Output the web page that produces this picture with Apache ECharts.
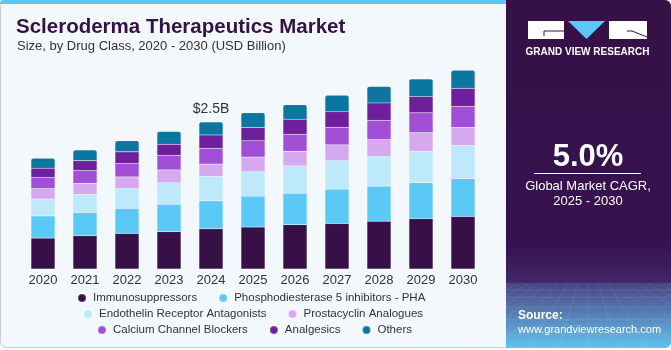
<!DOCTYPE html>
<html><head><meta charset="utf-8">
<script src="https://cdn.jsdelivr.net/npm/echarts@6/dist/echarts.min.js"></script>
<style>html,body{margin:0;padding:0;background:#fff}#c{width:671px;height:350px}</style>
</head><body><div id="c"></div>
<script>
var years = ['2020','2021','2022','2023','2024','2025','2026','2027','2028','2029','2030'];
var immunosuppressors = [0.53,0.57,0.61,0.64,0.69,0.72,0.76,0.78,0.82,0.86,0.90];
var pde5 = [0.38,0.40,0.43,0.47,0.48,0.53,0.54,0.59,0.60,0.62,0.65];
var endothelin = [0.29,0.31,0.34,0.37,0.42,0.42,0.47,0.49,0.51,0.54,0.57];
var prostacyclin = [0.18,0.19,0.20,0.22,0.21,0.25,0.25,0.27,0.29,0.32,0.31];
var calcium = [0.19,0.22,0.23,0.25,0.27,0.28,0.29,0.30,0.33,0.34,0.36];
var analgesics = [0.16,0.17,0.20,0.19,0.23,0.23,0.26,0.27,0.30,0.28,0.31];
var others = [0.17,0.18,0.19,0.22,0.22,0.25,0.25,0.28,0.28,0.30,0.31];
var seriesNames = ['Immunosuppressors','Phosphodiesterase 5 inhibitors - PHA','Endothelin Receptor Antagonists','Prostacyclin Analogues','Calcium Channel Blockers','Analgesics','Others'];
var colors = ['#361046','#5bc9f5','#bde9fa','#d6a9ee','#a24fd7','#6e1f9c','#0b77a0'];
var calloutIndex = 4, calloutText = '$2.5B';
var cagrText = '5.0%';

var chart = echarts.init(document.getElementById('c'), null, {renderer:'canvas'});
var allData = [immunosuppressors,pde5,endothelin,prostacyclin,calcium,analgesics,others];
var series = allData.map(function(d,i){
  var data = d.map(function(v,j){
    var item = {value:v};
    if(i===6 && j===calloutIndex){
      item.label = {show:true, position:'top', distance:6, formatter:calloutText, fontSize:14, color:'#333', fontFamily:'Liberation Sans, Arial'};
    }
    return item;
  });
  return {
    name: seriesNames[i], type:'bar', stack:'s', barWidth:24, data:data,
    itemStyle:{color:colors[i], borderRadius: i===6?[2,2,0,0]:0, borderColor:'rgba(255,255,255,0.18)', borderWidth:0.5},
    emphasis:{disabled:true}
  };
});

var gridLines = [];
for (var k=0;k<7;k++){
  var y = 290 + k*k*1.3 + k*6;
  if (y>346) break;
  gridLines.push({type:'line', shape:{x1:506,y1:y,x2:670,y2:y}, style:{stroke:'rgba(255,255,255,0.13)', lineWidth:0.7}, silent:true});
}
for (var m=-8;m<=8;m++){
  gridLines.push({type:'line', shape:{x1:588+m*10,y1:284,x2:588+m*30,y2:348}, style:{stroke:'rgba(255,255,255,0.12)', lineWidth:0.7}, silent:true});
}

function legendRow(names, left, top){
  return {data:names, left:left, top:top, orient:'horizontal', icon:'circle', itemWidth:8, itemHeight:8, itemGap:21, padding:0,
    textStyle:{fontSize:11.5, color:'#333', fontFamily:'Liberation Sans, Arial', padding:[0,0,0,2]}, selectedMode:false};
}

chart.setOption({
  animation:false,
  color: colors,
  title:[
    {text:'Scleroderma Therapeutics Market', left:16, top:17, padding:0, textStyle:{fontSize:20.5, fontWeight:'bold', color:'#361146', fontFamily:'Liberation Sans, Arial'}},
    {text:'Size, by Drug Class, 2020 - 2030 (USD Billion)', left:17, top:40, padding:0, textStyle:{fontSize:13, fontWeight:'normal', color:'#333', fontFamily:'Liberation Sans, Arial'}}
  ],
  legend:[
    legendRow([seriesNames[0],seriesNames[1]], 77, 292),
    legendRow([seriesNames[2],seriesNames[3]], 83, 308),
    legendRow([seriesNames[4],seriesNames[5],seriesNames[6]], 97, 324)
  ],
  grid:{left:22, right:187, top:65, bottom:81},
  xAxis:{type:'category', data:years, axisLine:{show:false}, axisTick:{show:false},
    axisLabel:{fontSize:13, color:'#333', margin:5, fontFamily:'Liberation Sans, Arial'}},
  yAxis:{type:'value', min:0, max:3.5, show:false, splitLine:{show:false}},
  series: series,
  graphic:[
    {type:'group', z:-10, silent:true, children:[
      {type:'rect', shape:{x:0,y:0,width:671,height:350}, style:{fill:'#ffffff'}},
      {type:'rect', shape:{x:0.5,y:0.5,width:670,height:347,r:6}, style:{fill:'#f3f8fc', stroke:'#c9ccd0', lineWidth:1}},
      {type:'rect', shape:{x:0,y:0,width:510,height:4,r:[3,0,0,0]}, style:{fill:'#5bc8f5'}}
    ]},
    {type:'group', z:50, silent:true, children:[
      {type:'rect', shape:{x:506,y:0,width:165,height:348,r:[0,6,6,0]}, style:{fill:{type:'linear',x:0,y:0,x2:0,y2:1,colorStops:[
        {offset:0,color:'#361146'},{offset:0.70,color:'#371250'},{offset:0.81,color:'#3f2766'},{offset:0.815,color:'#4a4482'},{offset:1,color:'#64c2ee'}]}}},
    ].concat(gridLines).concat([
      {type:'rect', shape:{x:528,y:21,width:36,height:18}, style:{fill:'#ffffff'}},
      {type:'polyline', shape:{points:[[564,31],[544,31],[544,36]]}, style:{stroke:'#361146', lineWidth:1, fill:null}},
      {type:'polygon', shape:{points:[[568,21],[605,21],[586.5,39]]}, style:{fill:'#5bc8f5'}},
      {type:'rect', shape:{x:609,y:21,width:38,height:18}, style:{fill:'#ffffff'}},
      {type:'polyline', shape:{points:[[627,31],[632,31],[647,37]]}, style:{stroke:'#361146', lineWidth:1, fill:null}},
      {type:'text', style:{x:587.5, y:52, text:'GRAND VIEW RESEARCH', fill:'#ffffff', font:'bold 10px Liberation Sans, Arial', textAlign:'center', textVerticalAlign:'middle'}},
      {type:'text', style:{x:588, y:157, text:cagrText, fill:'#ffffff', font:'bold 31px Liberation Sans, Arial', textAlign:'center', textVerticalAlign:'middle'}},
      {type:'line', shape:{x1:534,y1:173.5,x2:641,y2:173.5}, style:{stroke:'#ffffff', lineWidth:1}},
      {type:'text', style:{x:588, y:186, text:'Global Market CAGR,', fill:'#ffffff', font:'13px Liberation Sans, Arial', textAlign:'center', textVerticalAlign:'middle'}},
      {type:'text', style:{x:588, y:201, text:'2025 - 2030', fill:'#ffffff', font:'13px Liberation Sans, Arial', textAlign:'center', textVerticalAlign:'middle'}},
      {type:'text', style:{x:518, y:316, text:'Source:', fill:'#ffffff', font:'bold 12px Liberation Sans, Arial', textAlign:'left', textVerticalAlign:'middle'}},
      {type:'text', style:{x:518, y:330, text:'www.grandviewresearch.com', fill:'#ffffff', font:'11px Liberation Sans, Arial', textAlign:'left', textVerticalAlign:'middle'}}
    ])}
  ]
});
</script></body></html>
